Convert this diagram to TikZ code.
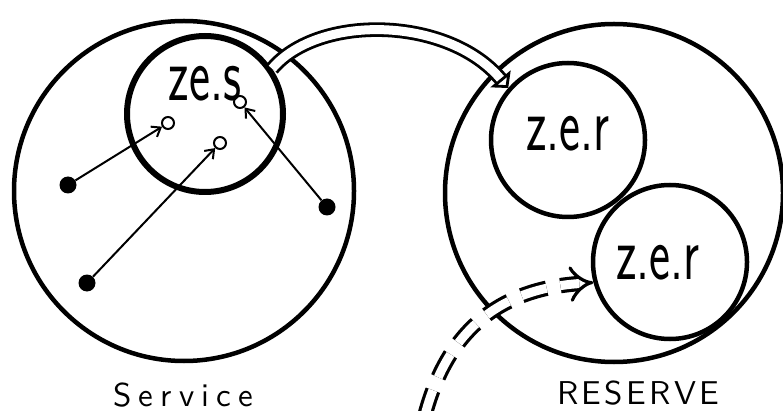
\documentclass[tikz,border=0pt]{standalone}
\usepackage{fontspec}
\newfontfamily\capfont{lmsans10-regular.otf}[LetterSpace=22]
\newfontfamily\widecapfont{lmsans10-regular.otf}[LetterSpace=10]
\usetikzlibrary{arrows.meta}
\newcommand{\tallword}[1]{\scalebox{1}[1.55]{#1}}

\begin{document}
\begin{tikzpicture}[x=1pt, y=-1pt,
    bigset/.style={circle, draw, line width=4.5pt, minimum size=340pt, inner sep=0pt},
    zone/.style={circle, draw, line width=4.5pt, minimum size=154pt, inner sep=0pt},
    spot/.style={circle, fill, minimum size=17pt, inner sep=0pt},
    ring/.style={circle, draw, line width=2pt, minimum size=12pt, inner sep=0pt},
    link/.style={line width=2pt, -{Straight Barb[length=8pt, width=12pt]}},
    transfer/.style={double, double distance=9pt, line width=2.8pt,
      -{Triangle[open, length=12pt, width=26pt]}},
    recall/.style={double, double distance=9pt, line width=3.2pt,
      dash pattern=on 26pt off 14pt, -{Implies}},
    zonetext/.style={font=\sffamily\fontsize{50}{50}\selectfont},
    caption/.style={anchor=base west, inner sep=0pt, font=\fontsize{33}{33}\selectfont}
  ]
  \useasboundingbox (0,0) rectangle (783,411);

  % the two sets
  \node[bigset] (service) at (184,191) {};
  \node[bigset, minimum size=338pt] (reserve) at (614,193) {};
  \node[caption] (servicetxt) at (113,406) {\capfont Service};
  \node[caption] (reservetxt) at (557,404) {\widecapfont RESERVE};

  % zones
  \node[zone, line width=6pt, minimum size=156pt] (zes) at (205,114) {};
  \node[zone] (zer1) at (568,140) {};
  \node[zone] (zer2) at (670,262) {};
  \node[zonetext] (zestxt) at (205,84) {\tallword{ze.s}};
  \node[zonetext] (zer1txt) at (568,134) {\tallword{z.e.r}};
  \node[zonetext] (zer2txt) at (658,263) {\tallword{z.e.r}};

  % spots and their targets
  \node[spot] (spot1) at (68,185) {};
  \node[spot] (spot2) at (87,283) {};
  \node[spot] (spot3) at (327,207) {};
  \node[ring] (ring1) at (168,123) {};
  \node[ring] (ring2) at (220,143) {};
  \node[ring] (ring3) at (240,102) {};
  \draw[link] (spot1) -- (ring1);
  \draw[link] (spot2) -- (ring2);
  \draw[link] (spot3) -- (ring3);

  % transfer to the reserve
  \draw[transfer] (zes.34) .. controls (318,14) and (448,16) .. (zer1.139);

  % dashed return
  \coordinate (recallfrom) at (425,415);
  \draw[recall] (recallfrom) .. controls (445,340) and (490,290) .. (zer2.195);
\end{tikzpicture}
\end{document}
